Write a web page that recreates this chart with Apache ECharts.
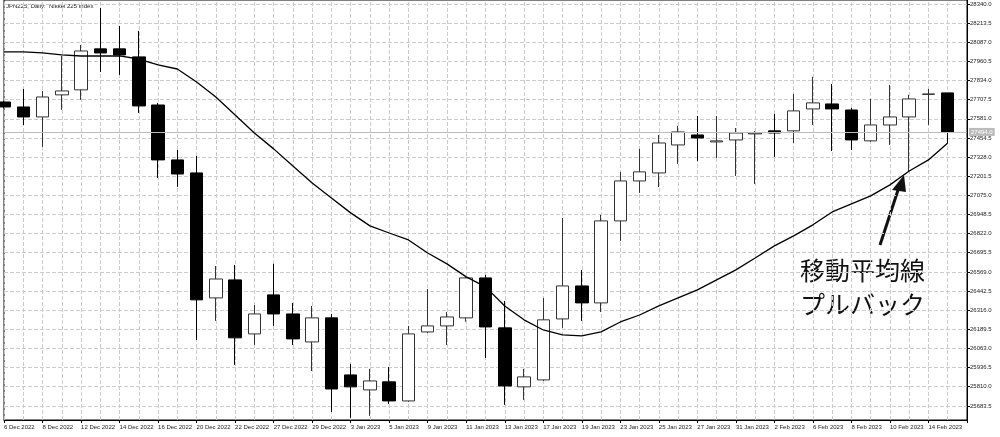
<!DOCTYPE html>
<html><head><meta charset="utf-8">
<script src="https://cdn.jsdelivr.net/npm/echarts@6/dist/echarts.min.js"></script>
<style>html,body{margin:0;padding:0;background:#fff}#c{width:1000px;height:437px}</style>
</head><body><div id="c"></div>
<script>
const dates = ['6 Dec 2022','7 Dec 2022','8 Dec 2022','9 Dec 2022','12 Dec 2022','13 Dec 2022','14 Dec 2022','15 Dec 2022','16 Dec 2022','19 Dec 2022','20 Dec 2022','21 Dec 2022','22 Dec 2022','23 Dec 2022','27 Dec 2022','28 Dec 2022','29 Dec 2022','30 Dec 2022',
'3 Jan 2023','4 Jan 2023','5 Jan 2023','6 Jan 2023','9 Jan 2023','10 Jan 2023','11 Jan 2023','12 Jan 2023','13 Jan 2023','16 Jan 2023','17 Jan 2023','18 Jan 2023','19 Jan 2023','20 Jan 2023','23 Jan 2023','24 Jan 2023','25 Jan 2023','26 Jan 2023','27 Jan 2023','30 Jan 2023','31 Jan 2023',
'1 Feb 2023','2 Feb 2023','3 Feb 2023','6 Feb 2023','7 Feb 2023','8 Feb 2023','9 Feb 2023','10 Feb 2023','13 Feb 2023','14 Feb 2023','15 Feb 2023',''];
// [open, close, low, high]
const ohlc = [
[27692,27659,27650,27700],[27659,27593,27540,27778],[27593,27725,27395,27765],[27739,27765,27640,27997],
[27772,28029,27706,28069],[28043,28016,27891,28314],[28043,28003,27871,28195],[27990,27666,27620,28162],
[27672,27309,27190,27686],[27309,27216,27131,27375],[27223,26384,26119,27335],[26397,26522,26245,26608],
[26516,26133,25954,26615],[26159,26291,26086,26350],[26417,26291,26212,26622],[26291,26126,26086,26364],
[26106,26265,25914,26344],[26265,25795,25643,26291],[25888,25809,25604,25961],[25789,25848,25617,25928],
[25842,25716,25696,25941],[25716,26159,25710,26212],[26172,26212,26165,26456],[26212,26271,26086,26304],
[26265,26529,26240,26535],[26529,26205,26000,26549],[26199,25815,25690,26377],[25809,25875,25723,25928],
[25855,26252,25848,26397],[26258,26476,26199,26925],[26476,26364,26245,26582],[26364,26906,26304,26946],
[26906,27170,26774,27230],[27170,27230,27091,27382],[27223,27421,27130,27474],[27408,27494,27283,27534],
[27474,27454,27302,27600],[27428,27435,27322,27600],[27441,27487,27203,27520],[27481,27487,27150,27500],
[27501,27487,27329,27613],[27501,27633,27421,27745],[27646,27686,27540,27858],[27679,27646,27368,27811],
[27639,27441,27375,27653],[27435,27540,27428,27712],[27540,27593,27408,27805],[27593,27712,27230,27739],
[27742,27745,27540,27778],[27752,27494,27421,27752]];
const ma = [28023,28023,28016,28003,27996,27996,27996,27976,27937,27910,27824,27725,27606,27487,27382,27269,27157,27058,26959,26873,26826,26780,26694,26622,26536,26470,26344,26252,26185,26152,26146,26172,26238,26284,26344,26397,26450,26516,26582,26661,26741,26807,26880,26965,27018,27071,27144,27236,27309,27421];
const yTicks = [25683.5,25810.0,25936.5,26063.0,26189.5,26316.0,26442.5,26569.0,26695.5,26822.0,26948.5,27075.0,27201.5,27328.0,27454.5,27581.0,27707.5,27834.0,27960.5,28087.0,28213.5,28340.0];
const lastPrice = 27494.0;
const title = 'JPN225, Daily:  Nikkei 225 Index';
const note = ['移動平均線','プルバック'];

const chart = echarts.init(document.getElementById('c'));
chart.setOption({
  animation:false,
  grid:{left:4,right:33,top:0,bottom:17,show:true,borderColor:'#000',borderWidth:1},
  xAxis:{type:'category',data:dates,boundaryGap:false,
    axisLine:{lineStyle:{color:'#000'}},
    axisTick:{show:true,interval:(i)=>i%2===0,lineStyle:{color:'#000'},length:3},
    axisLabel:{interval:(i)=>i%2===0,hideOverlap:false,showMinLabel:true,fontSize:6,color:'#222',align:'left',margin:4,fontFamily:'Liberation Sans'},
    splitLine:{show:false}},
  yAxis:{type:'value',position:'right',min:25590,max:28366,scale:true,
    axisLine:{show:true,lineStyle:{color:'#000'}},
    axisTick:{show:true,customValues:yTicks,length:3,lineStyle:{color:'#000'}},
    axisLabel:{customValues:yTicks,fontSize:6,color:'#222',margin:3,fontFamily:'Liberation Sans',formatter:v=>v.toFixed(1)},
    splitLine:{show:false}},
  graphic:[
    {type:'text',left:6,top:3,style:{text:title,fontSize:6,fill:'#222',fontFamily:'Liberation Sans'}},
    {type:'text',left:800,top:253,style:{text:note.join('\n'),fontSize:25,lineHeight:34,fill:'#111',fontFamily:'Noto Sans CJK JP'}},
    {type:'line',shape:{x1:880,y1:245,x2:900,y2:184},style:{stroke:'#111',lineWidth:3}},
    {type:'polygon',shape:{points:[[904,175],[892,190],[906,192]]},style:{fill:'#111'}}
  ],
  series:[
    {type:'line',data:[],z:0,markLine:{silent:true,symbol:'none',label:{show:false},z:0,
      lineStyle:{color:'#ccc',type:'dashed',width:1},
      data:yTicks.map(v=>({yAxis:v})).concat(dates.map(d=>({xAxis:d})))}},
    {type:'candlestick',data:ohlc,barWidth:13,z:3,
      itemStyle:{color:'#fff',color0:'#000',borderColor:'#333',borderColor0:'#000',borderWidth:1},
      markLine:{silent:true,symbol:'none',lineStyle:{color:'#bbb',type:'solid',width:1},
        label:{position:'end',formatter:lastPrice.toFixed(1),backgroundColor:'#bbb',color:'#fff',fontSize:6,padding:[1,2],distance:2},
        data:[{yAxis:lastPrice}]}},
    {type:'line',data:ma,symbol:'none',smooth:false,lineStyle:{color:'#000',width:1.3},z:5}
  ]
});
</script></body></html>
